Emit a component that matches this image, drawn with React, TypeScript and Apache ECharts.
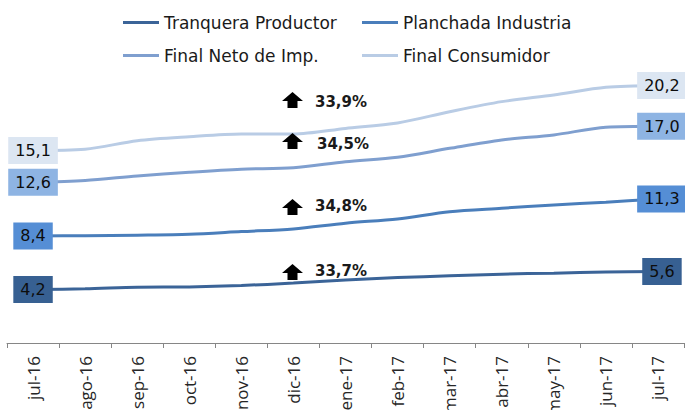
import React, { useEffect, useRef } from "react";
import * as echarts from "echarts";

const months = ["jul-16", "ago-16", "sep-16", "oct-16", "nov-16", "dic-16", "ene-17", "feb-17", "mar-17", "abr-17", "may-17", "jun-17", "jul-17"];
const seriesNames = ["Tranquera Productor", "Planchada Industria", "Final Neto de Imp.", "Final Consumidor"];
const tranquera = [4.2, 4.25, 4.38, 4.4, 4.51, 4.7, 4.95, 5.13, 5.27, 5.4, 5.48, 5.56, 5.6];
const planchada = [8.4, 8.42, 8.46, 8.53, 8.74, 8.95, 9.4, 9.73, 10.3, 10.57, 10.83, 11.04, 11.3];
const netoImp = [12.6, 12.75, 13.1, 13.39, 13.63, 13.75, 14.22, 14.57, 15.27, 15.92, 16.32, 16.92, 17.0];
const consumidor = [15.1, 15.2, 15.87, 16.18, 16.39, 16.39, 16.83, 17.26, 18.14, 18.93, 19.45, 20.05, 20.2];
const variations = ["33,7%", "34,8%", "34,5%", "33,9%"];

const lineColors = ["#3b6498", "#4a7ebb", "#7f9fcf", "#b9cce5"];
const boxColors = ["#376092", "#558ed5", "#8eb4e3", "#dce6f2"];
// layout of annotations (pixels): arrow top y, text center y, text x
const annArrowTop = [264, 199, 133, 92];
const annTextY = [271, 206, 144, 102];
const annTextX = [315, 315, 317, 315];
const legendPos = [
  { left: 123, top: 14 },
  { left: 362, top: 14 },
  { left: 123, top: 47 },
  { left: 362, top: 47 },
];

const fmt = (v: number) => v.toFixed(1).replace(".", ",");

export default function App() {
  const ref = useRef<HTMLDivElement>(null);
  useEffect(() => {
    if (!ref.current) return;
    const chart = echarts.init(ref.current, undefined, { renderer: "svg" });
    const all = [tranquera, planchada, netoImp, consumidor];
    const series = all.map((arr, si) => ({
      name: seriesNames[si],
      type: "line",
      smooth: 0.3,
      symbol: "circle",
      symbolSize: 1,
      showSymbol: true,
      itemStyle: { color: lineColors[si] },
      lineStyle: { color: lineColors[si], width: 3 },
      z: 2 + si,
      data: arr.map((v, i) => {
        const first = i === 0;
        const last = i === arr.length - 1;
        return first || last
          ? {
              value: v,
              label: {
                show: true,
                position: "inside",
                offset: last ? [4, 0] : [0, 0],
                formatter: () => fmt(v),
                backgroundColor: boxColors[si],
                color: "#0d0d0d",
                fontFamily: "DejaVu Sans",
                fontSize: 16,
                lineHeight: 19,
                padding: [4, 7, 4, 7],
              },
            }
          : { value: v };
      }),
    }));

    const graphics: any[] = [];
    variations.forEach((t, i) => {
      const cx = 292.5;
      const yt = annArrowTop[i];
      graphics.push({
        type: "polygon",
        shape: {
          points: [
            [cx, yt],
            [cx + 10.5, yt + 9],
            [cx + 5, yt + 9],
            [cx + 5, yt + 16],
            [cx - 5, yt + 16],
            [cx - 5, yt + 9],
            [cx - 10.5, yt + 9],
          ],
        },
        style: { fill: "#000" },
        z: 20,
      });
      graphics.push({
        type: "text",
        x: annTextX[i],
        y: annTextY[i],
        style: {
          text: t,
          font: "bold 15px 'DejaVu Sans'",
          fill: "#1a1a1a",
          verticalAlign: "middle",
          align: "left",
        },
        z: 20,
      });
    });

    chart.setOption({
      animation: false,
      grid: { left: 7, right: 1, top: 37, bottom: 67, containLabel: false, outerBoundsMode: "none" },
      legend: seriesNames.map((n, i) => ({
        data: [n],
        left: legendPos[i].left,
        top: legendPos[i].top,
        icon: "rect",
        itemWidth: 36,
        itemHeight: 3,
        padding: 0,
        textStyle: { fontFamily: "DejaVu Sans", fontSize: 17, color: "#1a1a1a" },
      })),
      xAxis: {
        type: "category",
        data: months,
        boundaryGap: true,
        offset: 5,
        axisLine: { lineStyle: { color: "#868686", width: 1 } },
        axisTick: { show: true, length: 5, lineStyle: { color: "#868686" } },
        axisLabel: {
          rotate: 90,
          interval: 0,
          margin: 8,
          fontFamily: "Open Sans",
          fontSize: 17,
          color: "#262626",
        },
      },
      yAxis: {
        type: "value",
        min: 0,
        max: 24,
        show: false,
        splitLine: { show: false },
      },
      series,
      graphic: graphics,
    });
    return () => chart.dispose();
  }, []);
  return <div ref={ref} style={{ position: "absolute", left: 0, top: 0, width: 685, height: 410 }} />;
}
